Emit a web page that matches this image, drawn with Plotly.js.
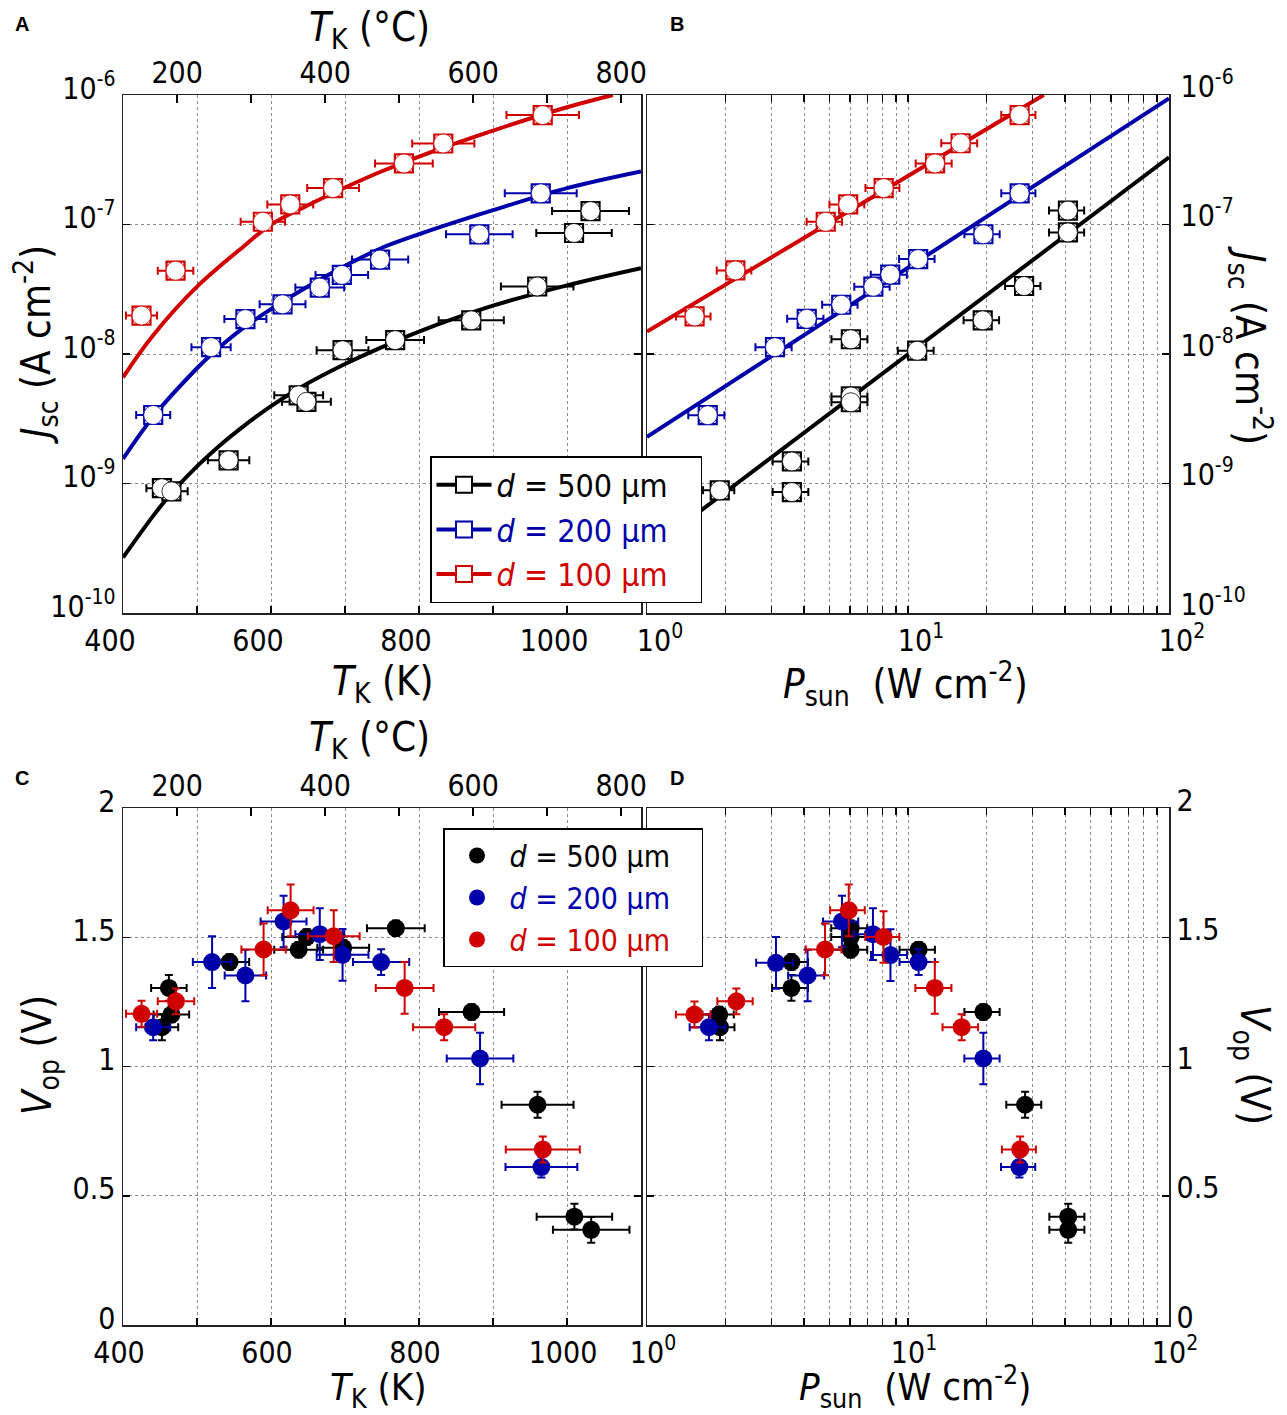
<!DOCTYPE html>
<html><head><meta charset="utf-8">
<script src="https://cdn.plot.ly/plotly-3.0.1.min.js"></script>
<style>html,body{margin:0;padding:0;background:#fff}#chart{width:1287px;height:1415px}</style>
</head><body><div id="chart"></div>
<script>
// ---------------- tick labels ----------------
const tickK = [400, 500, 600, 700, 800, 900, 1000, 1100];
const tickKText = ['400', '', '600', '', '800', '', '1000', ''];
const tickC = [200, 300, 400, 500, 600, 700, 800];
const tickCText = ['200', '', '400', '', '600', '', '800'];
const tickP = [1, 2, 3, 4, 5, 6, 7, 8, 9, 10, 20, 30, 40, 50, 60, 70, 80, 90, 100];
const tickPText = ['10<sup>0</sup>', '', '', '', '', '', '', '', '', '10<sup>1</sup>', '', '', '', '', '', '', '', '', '10<sup>2</sup>'];
const tickJ = [1e-10, 1e-9, 1e-8, 1e-7, 1e-6];
const tickJText = ['10<sup>-10</sup>', '10<sup>-9</sup>', '10<sup>-8</sup>', '10<sup>-7</sup>', '10<sup>-6</sup>'];
const tickV = [0, 0.5, 1, 1.5, 2];
const tickVText = ['0', '0.5', '1', '1.5', '2'];
const seriesLabels = ['<i>d</i> = 500 μm', '<i>d</i> = 200 μm', '<i>d</i> = 100 μm'];

// ---------------- Panel A: Jsc vs T_K (K) ----------------
const A500_T = [452.6, 465.4, 542.7, 637.4, 647.9, 696.7, 767.8, 870.6, 959.7, 1009.5, 1031.8];
const A500_J = [9.2e-10, 8.7e-10, 1.51e-9, 4.8e-9, 4.27e-9, 1.07e-8, 1.28e-8, 1.82e-8, 3.32e-8, 8.6e-8, 1.27e-7];
const A500_Terr = [21, 22, 28, 33, 33, 35, 39, 44, 49, 51, 52];
const A200_T = [440.8, 519, 565.4, 615.6, 665.9, 695.7, 747.4, 881.5, 964.5];
const A200_J = [3.38e-9, 1.13e-8, 1.86e-8, 2.42e-8, 3.26e-8, 4.08e-8, 5.36e-8, 8.4e-8, 1.74e-7];
const A200_Terr = [23, 26.5, 28.4, 31, 33, 35.5, 38, 45, 48.6];
const A100_T = [425, 471, 589, 626, 683.9, 779.6, 832.8, 967.2];
const A100_J = [1.98e-8, 4.4e-8, 1.05e-7, 1.43e-7, 1.91e-7, 2.96e-7, 4.22e-7, 7.0e-7];
const A100_Terr = [21, 24, 30, 31, 35, 39, 42, 49];
// fitted curves
const fitA500_T = [400, 440, 465, 500, 530, 560, 600, 640, 700, 750, 800, 900, 1000, 1100];
const fitA500_J = [2.68e-10, 5.55e-10, 8.36e-10, 1.355e-9, 1.95e-9, 2.69e-9, 3.96e-9, 5.52e-9, 8.36e-9, 1.13e-8, 1.49e-8, 2.36e-8, 3.39e-8, 4.60e-8];
const fitA200_T = [400, 440, 500, 520, 560, 600, 665, 710, 750, 800, 900, 1000, 1100];
const fitA200_J = [1.55e-9, 3.24e-9, 7.76e-9, 1.0e-8, 1.55e-8, 2.22e-8, 3.72e-8, 5.13e-8, 6.61e-8, 8.41e-8, 1.29e-7, 1.91e-7, 2.57e-7];
const fitA100_T = [400, 440, 500, 567, 600, 650, 700, 745, 800, 900, 1000, 1062];
const fitA100_J = [6.61e-9, 1.38e-8, 3.31e-8, 7.08e-8, 1.0e-7, 1.41e-7, 1.93e-7, 2.51e-7, 3.35e-7, 5.31e-7, 8.04e-7, 1.0e-6];

// ---------------- Panel B: Jsc vs P_sun ----------------
const B500_P = [1.90, 3.59, 3.59, 6.04, 6.04, 6.04, 10.84, 19.33, 27.85, 41.0, 41.0];
const B500_J = [8.85e-10, 1.48e-9, 8.58e-10, 4.70e-9, 4.24e-9, 1.30e-8, 1.06e-8, 1.82e-8, 3.35e-8, 8.69e-8, 1.28e-7];
const B500_Perr = [0.26, 0.56, 0.56, 0.95, 0.95, 0.95, 1.7, 3.0, 4.3, 6.3, 6.3];
const B200_P = [1.709, 3.093, 4.093, 5.549, 7.366, 8.55, 10.94, 19.45, 26.77];
const B200_J = [3.37e-9, 1.13e-8, 1.87e-8, 2.40e-8, 3.31e-8, 4.10e-8, 5.41e-8, 8.41e-8, 1.74e-7];
const B200_Perr = [0.27, 0.49, 0.65, 0.86, 1.14, 1.35, 1.7, 3.0, 4.0];
const B100_P = [1.522, 2.18, 4.84, 5.90, 8.07, 12.70, 15.91, 26.77];
const B100_J = [1.95e-8, 4.42e-8, 1.05e-7, 1.43e-7, 1.91e-7, 2.96e-7, 4.24e-7, 7.0e-7];
const B100_Perr = [0.23, 0.33, 0.75, 0.9, 1.2, 2.0, 2.5, 4.0];
const fitB500_P = [1, 100];
const fitB500_J = [3.0e-10, 3.3e-7];
const fitB200_P = [1, 100];
const fitB200_J = [2.29e-9, 9.4e-7];
const fitB100_P = [1, 33.1];
const fitB100_J = [1.49e-8, 1.0e-6];

// ---------------- Panel C: Vop vs T_K (K) ----------------
const C500_T = [452.6, 465.4, 462, 544, 637.4, 648.3, 697.6, 768.7, 871, 960.2, 1010, 1032.7];
const C500_V = [1.152, 1.201, 1.304, 1.404, 1.452, 1.501, 1.459, 1.535, 1.211, 0.852, 0.419, 0.368];
const C500_Terr = [22, 24, 24, 26.5, 33, 33, 35, 39, 44, 48.6, 51, 51.7];
const C500_Verr = [0.05, 0.03, 0.05, 0.03, 0.03, 0.03, 0.03, 0.03, 0.03, 0.05, 0.05, 0.05];
const C200_T = [440.8, 520.4, 565.4, 617, 665.9, 696.7, 748.8, 882.5, 965.4];
const C200_V = [1.152, 1.404, 1.352, 1.561, 1.512, 1.432, 1.404, 1.031, 0.611];
const C200_Terr = [23, 26, 28, 31, 33, 35, 38, 45, 48.5];
const C200_Verr = [0.05, 0.1, 0.1, 0.1, 0.1, 0.1, 0.05, 0.1, 0.04];
const C100_T = [425.1, 471.6, 590, 626.5, 684.8, 780.6, 834, 967.3];
const C100_V = [1.204, 1.252, 1.453, 1.604, 1.504, 1.304, 1.152, 0.679];
const C100_Terr = [21, 24.6, 30, 31, 35, 39, 42, 50];
const C100_Verr = [0.05, 0.05, 0.1, 0.1, 0.1, 0.1, 0.05, 0.05];

// ---------------- Panel D: Vop vs P_sun ----------------
const D500_P = [1.903, 1.89, 3.575, 3.575, 6.03, 6.03, 6.03, 10.98, 19.44, 28.1, 41.1, 41.1];
const D500_V = [1.152, 1.201, 1.404, 1.304, 1.452, 1.501, 1.535, 1.452, 1.211, 0.852, 0.419, 0.368];
const D500_Perr = [0.26, 0.26, 0.56, 0.56, 0.95, 0.95, 0.95, 1.7, 3.0, 4.3, 6.3, 6.3];
const D500_Verr = [0.05, 0.03, 0.03, 0.05, 0.03, 0.03, 0.03, 0.03, 0.03, 0.05, 0.05, 0.05];
const D200_P = [1.727, 3.12, 4.124, 5.585, 7.34, 8.566, 10.98, 19.44, 26.72];
const D200_V = [1.152, 1.401, 1.352, 1.561, 1.512, 1.431, 1.404, 1.031, 0.611];
const D200_Perr = [0.27, 0.5, 0.65, 0.86, 1.14, 1.35, 1.7, 3.0, 4.0];
const D200_Verr = [0.05, 0.1, 0.1, 0.1, 0.1, 0.1, 0.05, 0.1, 0.04];
const D100_P = [1.52, 2.20, 4.81, 5.93, 8.06, 12.67, 16.06, 26.9];
const D100_V = [1.201, 1.252, 1.453, 1.604, 1.501, 1.304, 1.152, 0.679];
const D100_Perr = [0.23, 0.34, 0.75, 0.9, 1.2, 2.0, 2.5, 4.0];
const D100_Verr = [0.05, 0.05, 0.1, 0.1, 0.1, 0.1, 0.05, 0.05];

// ---------------- styling ----------------
const COL = ['#000000', '#0000aa', '#d00000'];
const FONT = "'DejaVu Sans Condensed', 'DejaVu Sans', sans-serif";
const TICKSIZE = 30, TITLESIZE = 40;
const W = 1287, H = 1415;
const px = v => v / W, py = v => 1 - v / H;

const traces = [];
function fitLine(x, y, c, xa, ya, spline) {
  traces.push({type: 'scatter', mode: 'lines', x: x, y: y, xaxis: xa, yaxis: ya, showlegend: false,
    line: {color: c, width: 4, shape: spline ? 'spline' : 'linear'}, hoverinfo: 'skip'});
}
function openPts(x, y, xerr, c, xa, ya) {
  traces.push({type: 'scatter', mode: 'markers', x: x, y: y, xaxis: xa, yaxis: ya, showlegend: false,
    error_x: {type: 'data', array: xerr, visible: true, color: c, thickness: 2, width: 4},
    marker: {symbol: 'square', size: 18, color: '#ffffff', line: {color: c, width: 2.2}}});
  traces.push({type: 'scatter', mode: 'markers', x: x, y: y, xaxis: xa, yaxis: ya, showlegend: false,
    marker: {symbol: 'circle', size: 19, color: '#ffffff', line: {color: c, width: 0.8}}});
}
function fillPts(x, y, xerr, yerr, c, xa, ya) {
  traces.push({type: 'scatter', mode: 'markers', x: x, y: y, xaxis: xa, yaxis: ya, showlegend: false,
    error_x: {type: 'data', array: xerr, visible: true, color: c, thickness: 2, width: 4},
    error_y: {type: 'data', array: yerr, visible: true, color: c, thickness: 2, width: 4},
    marker: {symbol: 'circle', size: 18, color: c}});
}

// Panel A
fitLine(fitA500_T, fitA500_J, COL[0], 'x', 'y', true);
fitLine(fitA200_T, fitA200_J, COL[1], 'x', 'y', true);
fitLine(fitA100_T, fitA100_J, COL[2], 'x', 'y', true);
openPts(A500_T, A500_J, A500_Terr, COL[0], 'x', 'y');
openPts(A200_T, A200_J, A200_Terr, COL[1], 'x', 'y');
openPts(A100_T, A100_J, A100_Terr, COL[2], 'x', 'y');
// Panel B
fitLine(fitB500_P, fitB500_J, COL[0], 'x2', 'y2', false);
fitLine(fitB200_P, fitB200_J, COL[1], 'x2', 'y2', false);
fitLine(fitB100_P, fitB100_J, COL[2], 'x2', 'y2', false);
openPts(B500_P, B500_J, B500_Perr, COL[0], 'x2', 'y2');
openPts(B200_P, B200_J, B200_Perr, COL[1], 'x2', 'y2');
openPts(B100_P, B100_J, B100_Perr, COL[2], 'x2', 'y2');
// Panel C
fillPts(C500_T, C500_V, C500_Terr, C500_Verr, COL[0], 'x3', 'y3');
fillPts(C200_T, C200_V, C200_Terr, C200_Verr, COL[1], 'x3', 'y3');
fillPts(C100_T, C100_V, C100_Terr, C100_Verr, COL[2], 'x3', 'y3');
// Panel D
fillPts(D500_P, D500_V, D500_Perr, D500_Verr, COL[0], 'x4', 'y4');
fillPts(D200_P, D200_V, D200_Perr, D200_Verr, COL[1], 'x4', 'y4');
fillPts(D100_P, D100_V, D100_Perr, D100_Verr, COL[2], 'x4', 'y4');
// top (°C) axes need a subplot
traces.push({type: 'scatter', mode: 'markers', x: [null], y: [null], xaxis: 'x5', yaxis: 'y', showlegend: false});
traces.push({type: 'scatter', mode: 'markers', x: [null], y: [null], xaxis: 'x6', yaxis: 'y3', showlegend: false});
// legend entries
const pad = '\u00a0\u00a0\u00a0';
seriesLabels.forEach((lab, i) => {
  traces.push({type: 'scatter', mode: 'lines+markers', x: [null], y: [null], xaxis: 'x', yaxis: 'y',
    name: '<span style="color:' + COL[i] + '">' + lab + pad + '</span>', legend: 'legend', legendgroup: 'a' + i,
    line: {color: COL[i], width: 4}, marker: {symbol: 'square', size: 17, color: '#ffffff', line: {color: COL[i], width: 2}}});
});
seriesLabels.forEach((lab, i) => {
  traces.push({type: 'scatter', mode: 'markers', x: [null], y: [null], xaxis: 'x3', yaxis: 'y3',
    name: '<span style="color:' + COL[i] + '">' + lab + pad + '</span>', legend: 'legend2', legendgroup: 'c' + i,
    marker: {symbol: 'circle', size: 18, color: COL[i]}});
});

const xdL = [px(123), px(641)], xdR = [px(647), px(1169)];
const ydT = [py(613), py(95)], ydB = [py(1325), py(808)];
const common = {
  ticks: 'inside', ticklen: 7, tickwidth: 1.5, tickcolor: '#000',
  showline: true, linecolor: '#222', linewidth: 1.5,
  showgrid: true, gridcolor: '#8a8a8a', gridwidth: 1, griddash: 'dot',
  zeroline: false, automargin: false,
  tickfont: {family: FONT, size: TICKSIZE, color: '#000'}
};
function ax(o) { return Object.assign({}, common, o); }

const layout = {
  width: W, height: H, margin: {l: 0, r: 0, t: 0, b: 0},
  paper_bgcolor: '#fff', plot_bgcolor: '#fff',
  font: {family: FONT, color: '#000'},
  showlegend: true,
  xaxis: ax({domain: xdL, anchor: 'y', range: [400, 1100], tickmode: 'array', tickvals: tickK, ticktext: tickKText, mirror: true, ticklabelshift: -13}),
  yaxis: ax({domain: ydT, anchor: 'x', type: 'log', range: [-10, -6], tickmode: 'array', tickvals: tickJ, ticktext: tickJText, mirror: 'ticks', ticklabelshift: -7}),
  xaxis2: ax({domain: xdR, anchor: 'y2', type: 'log', range: [0, 2], tickmode: 'array', tickvals: tickP, ticktext: tickPText, mirror: 'ticks', ticklabelshift: 13}),
  yaxis2: ax({domain: ydT, anchor: 'x2', side: 'right', type: 'log', range: [-10, -6], tickmode: 'array', tickvals: tickJ, ticktext: tickJText, mirror: 'ticks', ticklabelshift: -9, ticklabelstandoff: 4}),
  xaxis3: ax({domain: xdL, anchor: 'y3', range: [400, 1100], tickmode: 'array', tickvals: tickK, ticktext: tickKText, mirror: true, ticklabelshift: -4}),
  yaxis3: ax({domain: ydB, anchor: 'x3', range: [0, 2], tickmode: 'array', tickvals: tickV, ticktext: tickVText, mirror: 'ticks', ticklabelshift: -7}),
  xaxis4: ax({domain: xdR, anchor: 'y4', type: 'log', range: [0, 2], tickmode: 'array', tickvals: tickP, ticktext: tickPText, mirror: 'ticks', ticklabelshift: 6}),
  yaxis4: ax({domain: ydB, anchor: 'x4', side: 'right', range: [0, 2], tickmode: 'array', tickvals: tickV, ticktext: tickVText, mirror: 'ticks', ticklabelshift: -8}),
  xaxis5: ax({overlaying: 'x', anchor: 'y', side: 'top', range: [126.85, 826.85], tickmode: 'array', tickvals: tickC, ticktext: tickCText, showgrid: false, showline: false, ticklen: 8, ticklabelstandoff: 5}),
  xaxis6: ax({overlaying: 'x3', anchor: 'y3', side: 'top', range: [126.85, 826.85], tickmode: 'array', tickvals: tickC, ticktext: tickCText, showgrid: false, showline: false, ticklen: 8, ticklabelstandoff: 5}),
  legend: {x: px(430), y: py(456), xanchor: 'left', yanchor: 'top', bgcolor: '#fff', bordercolor: '#000', borderwidth: 1.5,
    font: {family: FONT, size: 32}, itemwidth: 55, tracegroupgap: 0, traceorder: 'grouped'},
  legend2: {x: px(443), y: py(828), xanchor: 'left', yanchor: 'top', bgcolor: '#fff', bordercolor: '#000', borderwidth: 1.5,
    font: {family: FONT, size: 30}, itemwidth: 55, tracegroupgap: 0, traceorder: 'grouped'},
  annotations: []
};

function note(text, x, y, opts) {
  layout.annotations.push(Object.assign({text: text, x: px(x), y: py(y), xref: 'paper', yref: 'paper', showarrow: false,
    xanchor: 'center', yanchor: 'middle', font: {family: FONT, size: TITLESIZE, color: '#000'}}, opts || {}));
}
const tK = '<i>T</i><sub>K</sub> (K)';
const tC = '<i>T</i><sub>K</sub> (°C)';
const tP = '<i>P</i><sub>sun</sub>  (W cm<sup>-2</sup>)';
const tJ = '<i>J</i><sub>sc</sub> (A cm<sup>-2</sup>)';
const tV = '<i>V</i><sub>op</sub> (V)';
const lowFont = {family: FONT, size: 38, color: '#000'};
note(tK, 383, 684);
note(tC, 369, 30);
note(tJ, 36, 345, {textangle: -90});
note(tP, 905, 684);
note(tJ, 1250, 345, {textangle: 90});
note(tC, 369, 740);
note(tV, 40, 1055, {textangle: -90});
note(tK, 378, 1389, {font: lowFont});
note(tP, 915, 1386, {font: lowFont});
note(tV, 1252, 1065, {textangle: 90});
const letterFont = {family: 'Liberation Sans, Arial, sans-serif', size: 20, color: '#000'};
note('<b>A</b>', 22, 24, {font: letterFont});
note('<b>B</b>', 677, 24, {font: letterFont});
note('<b>C</b>', 22, 778, {font: letterFont});
note('<b>D</b>', 677, 778, {font: letterFont});

Plotly.newPlot('chart', traces, layout, {staticPlot: true});
</script></body></html>
